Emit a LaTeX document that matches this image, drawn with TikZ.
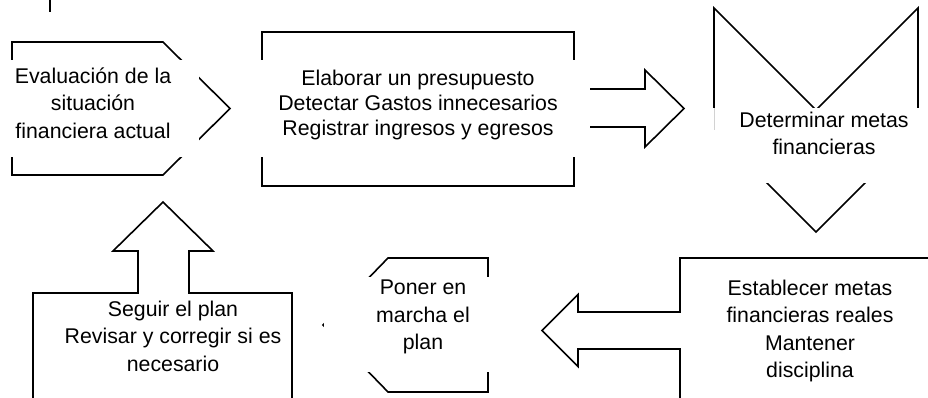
\documentclass[tikz,border=0pt]{standalone}
\usepackage{fontspec}
\setmainfont{Liberation Sans}
\usetikzlibrary{positioning}
\tikzset{
    every node/.style={inner sep=0pt},
    shp/.style={draw=black, line width=1.6pt},
    mask/.style={fill=white},
    txt/.style={align=center, font=\fontsize{21.3}{27.5}\selectfont,
        execute at begin node=\strut, execute at end node=\strut},
    txtb/.style={txt, font=\fontsize{21.3}{25}\selectfont}
}

\begin{document}
\begin{tikzpicture}[x=1pt, y=-1pt]
    \clip (0,0) rectangle (928,398);
    \fill[white] (0,0) rectangle (928,398);

    \draw[shp] (50,0) -- (50,12);

    % evaluacion
    \draw[shp] (12,42) -- (163,42) -- (230,108.5) -- (163,175) -- (12,175) -- cycle;
    \fill[mask] (0,60) rectangle (199,157);
    \node[txt] (eval) at (93,107) {Evaluación de la\\situación\\financiera actual};

    % presupuesto
    \draw[shp] (262,32) rectangle (574,186);
    \fill[mask] (252,60) rectangle (584,157);
    \node[txtb] (pres) at (418,107) {Elaborar un presupuesto\\Detectar Gastos innecesarios\\Registrar ingresos y egresos};
    \draw[shp] (590,89) -- (645,89) -- (645,70) -- (684,108.5) -- (645,147) -- (645,127) -- (590,127);

    % metas
    \draw[shp] (714,8) -- (816,110) -- (918,8) -- (918,130) -- (816,232) -- (714,130) -- cycle;
    \fill[mask] (704,108.5) rectangle (928,183);
    \draw[gray!35, line width=1pt] (714,108.5) -- (714,130);
    \node[txt] (metas) at (824,137.25) {Determinar metas\\financieras};

    % establecer
    \draw[shp] (940,258) -- (680,258) -- (680,312) -- (578,312) -- (578,294.5)
        -- (542,330.5) -- (578,366.5) -- (578,349) -- (680,349) -- (680,410);
    \node[txt] (estab) at (810,332.75) {Establecer metas\\financieras reales\\Mantener\\disciplina};

    % poner en marcha
    \draw[shp] (388,258) -- (488,258) -- (488,392) -- (388,392) -- (323,325) -- cycle;
    \fill[mask] (323.5,277) rectangle (500,372);
    \node[txt] (marcha) at (423,319.2) {Poner en\\marcha el\\plan};

    % seguir el plan
    \draw[shp] (33,410) -- (33,293) -- (138,293) -- (138,251) -- (113,251) -- (163,202)
        -- (213,251) -- (189,251) -- (189,293) -- (292,293) -- (292,410);
    \node[txt] (seguir) at (173,340) {Seguir el plan\\Revisar y corregir si es\\necesario};
\end{tikzpicture}
\end{document}
